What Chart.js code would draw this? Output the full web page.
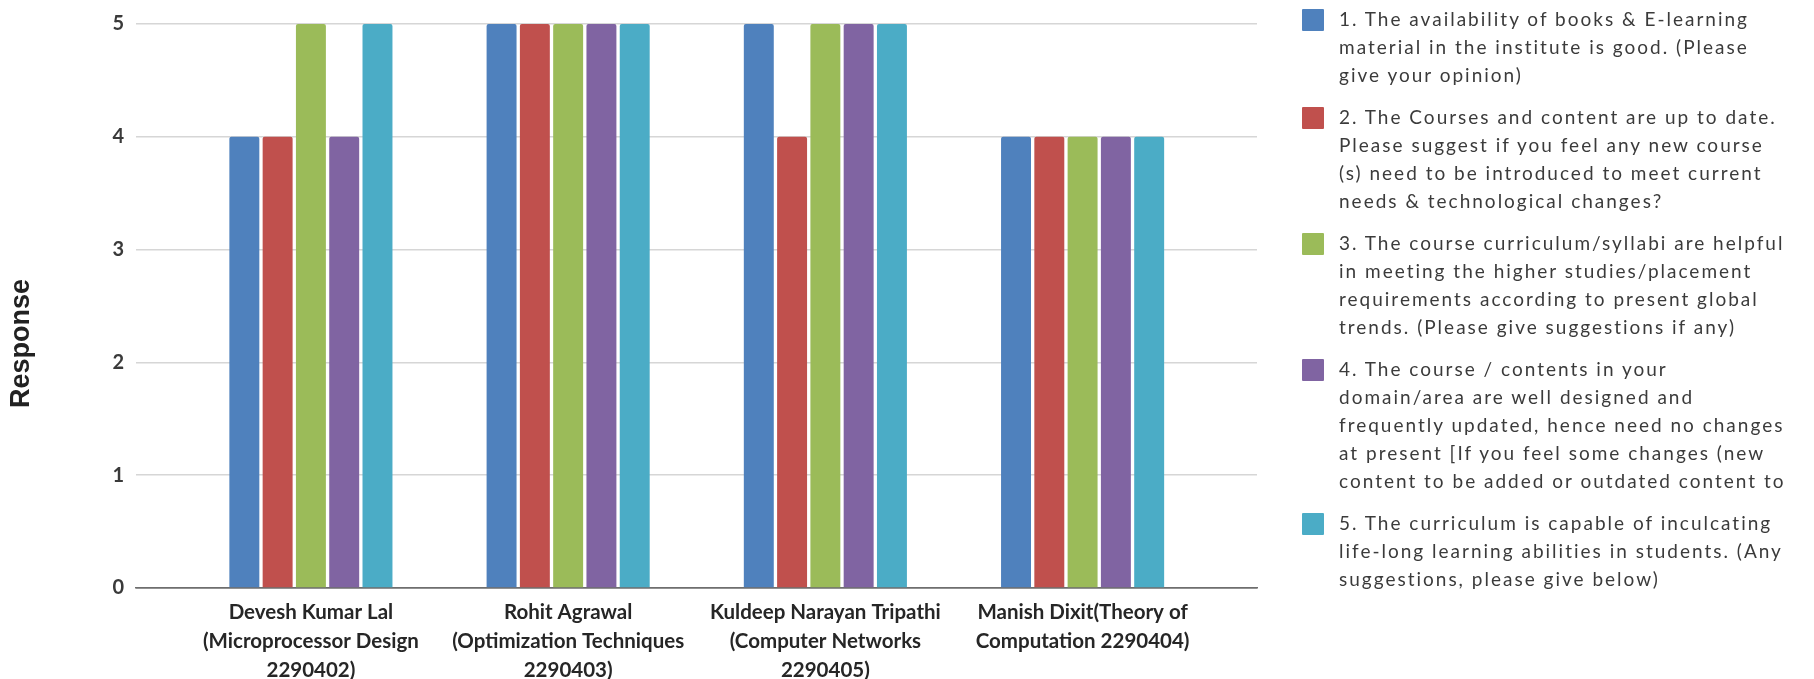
<!DOCTYPE html>
<html>
<head>
<meta charset="utf-8">
<title>Curriculum feedback responses</title>
<script src="https://cdn.jsdelivr.net/npm/chart.js@4.4.1/dist/chart.umd.min.js"></script>
<style>
  html, body { margin: 0; padding: 0; background: #ffffff; }
  #wrap { position: relative; width: 1814px; height: 679px; overflow: hidden; }
  #chart { position: absolute; left: 0; top: 0; }
  #legend {
    position: absolute; left: 1302px; top: 4.8px;
    font-family: Lato, "Open Sans", sans-serif; font-size: 19px; line-height: 28px;
    color: #3b3b3b; letter-spacing: 2px;
  }
  .item { position: relative; padding-left: 37px; margin-bottom: 14px; white-space: nowrap; }
  .box { position: absolute; left: 0; top: 4.5px; width: 22px; height: 22px; border-radius: 1px; }
</style>
</head>
<body>
<div id="wrap">
  <canvas id="chart" width="1814" height="679"></canvas>
  <div id="legend"></div>
</div>
<script>
// Faculty / course names, one wrapped line per entry
const courses = [
  ["Devesh Kumar Lal", "(Microprocessor Design", "2290402)"],
  ["Rohit Agrawal", "(Optimization Techniques", "2290403)"],
  ["Kuldeep Narayan Tripathi", "(Computer Networks", "2290405)"],
  ["Manish Dixit(Theory of", "Computation 2290404)"]
];

// Feedback questions, wrapped as shown in the legend
const questionLines = [
  ["1. The availability of books & E-learning", "material in the institute is good. (Please", "give your opinion)"],
  ["2. The Courses and content are up to date.", "Please suggest if you feel any new course", "(s) need to be introduced to meet current", "needs & technological changes?"],
  ["3. The course curriculum/syllabi are helpful", "in meeting the higher studies/placement", "requirements according to present global", "trends. (Please give suggestions if any)"],
  ["4. The course / contents in your", "domain/area are well designed and", "frequently updated, hence need no changes", "at present [If you feel some changes (new", "content to be added or outdated content to"],
  ["5. The curriculum is capable of inculcating", "life-long learning abilities in students. (Any", "suggestions, please give below)"]
];

// Responses per question, one value per course
const q1 = [4, 5, 5, 4];
const q2 = [4, 5, 4, 4];
const q3 = [5, 5, 5, 4];
const q4 = [4, 5, 5, 4];
const q5 = [5, 5, 5, 4];

const yTicks = [0, 1, 2, 3, 4, 5];
const axisTitle = "Response";

const seriesValues = [q1, q2, q3, q4, q5];
const seriesColors = ["#4F81BD", "#C0504D", "#9BBB59", "#8064A2", "#4BACC6"];

const datasets = seriesValues.map((vals, s) => ({
  label: questionLines[s].join(" "),
  data: vals.map((v, i) => ({ x: i, y: v })),
  backgroundColor: seriesColors[s],
  borderWidth: 0,
  borderRadius: { topLeft: 2, topRight: 2, bottomLeft: 0, bottomRight: 0 },
  borderSkipped: "start",
  categoryPercentage: 0.647,
  barPercentage: 0.9
}));

// Rotated value-axis title, centred on the full canvas height
const yTitlePlugin = {
  id: "yTitle",
  afterDraw(chart) {
    const ctx = chart.ctx;
    ctx.save();
    ctx.translate(22, chart.height / 2 + 4);
    ctx.rotate(-Math.PI / 2);
    ctx.font = 'bold 27px "Liberation Sans", Arial, sans-serif';
    ctx.fillStyle = "#222222";
    ctx.textAlign = "center";
    ctx.textBaseline = "middle";
    ctx.fillText(axisTitle, 0, 0);
    ctx.restore();
  }
};

const chart = new Chart(document.getElementById("chart"), {
  type: "bar",
  data: { datasets },
  plugins: [yTitlePlugin],
  options: {
    responsive: false,
    animation: false,
    devicePixelRatio: 1,
    layout: { padding: { top: 21, right: 557, bottom: 0, left: 0 } },
    plugins: { legend: { display: false }, tooltip: { enabled: false } },
    scales: {
      x: {
        type: "linear",
        min: -0.68,
        max: 3.678,
        offset: false,
        grid: { display: false, drawTicks: false },
        border: { display: true, color: "#6e6e6e", width: 1.5 },
        afterBuildTicks: (scale) => { scale.ticks = courses.map((c, i) => ({ value: i })); },
        afterFit: (scale) => { scale.height = 91; },
        ticks: {
          autoSkip: false, maxRotation: 0, minRotation: 0, padding: 10,
          color: "#262626",
          font: { family: "Lato", weight: "bold", size: 20.5, lineHeight: 1.415 },
          callback: (v) => courses[v]
        }
      },
      y: {
        min: 0,
        max: 5,
        afterBuildTicks: (scale) => { scale.ticks = yTicks.map(v => ({ value: v })); },
        afterFit: (scale) => { scale.width = 136; },
        border: { display: false },
        grid: {
          drawTicks: false,
          lineWidth: 1.5,
          color: (ctx) => ctx.tick && ctx.tick.value === 0 ? "#6e6e6e" : "#d6d6d6"
        },
        ticks: {
          padding: 12,
          color: "#3a3a3a",
          font: { family: "Lato", weight: "bold", size: 20 }
        }
      }
    }
  }
});

// HTML legend built from the chart's datasets
const legendEl = document.getElementById("legend");
chart.data.datasets.forEach((ds, s) => {
  const item = document.createElement("div");
  item.className = "item";
  const box = document.createElement("span");
  box.className = "box";
  box.style.background = ds.backgroundColor;
  item.appendChild(box);
  questionLines[s].forEach(line => {
    const l = document.createElement("div");
    l.textContent = line;
    item.appendChild(l);
  });
  legendEl.appendChild(item);
});
</script>
</body>
</html>
